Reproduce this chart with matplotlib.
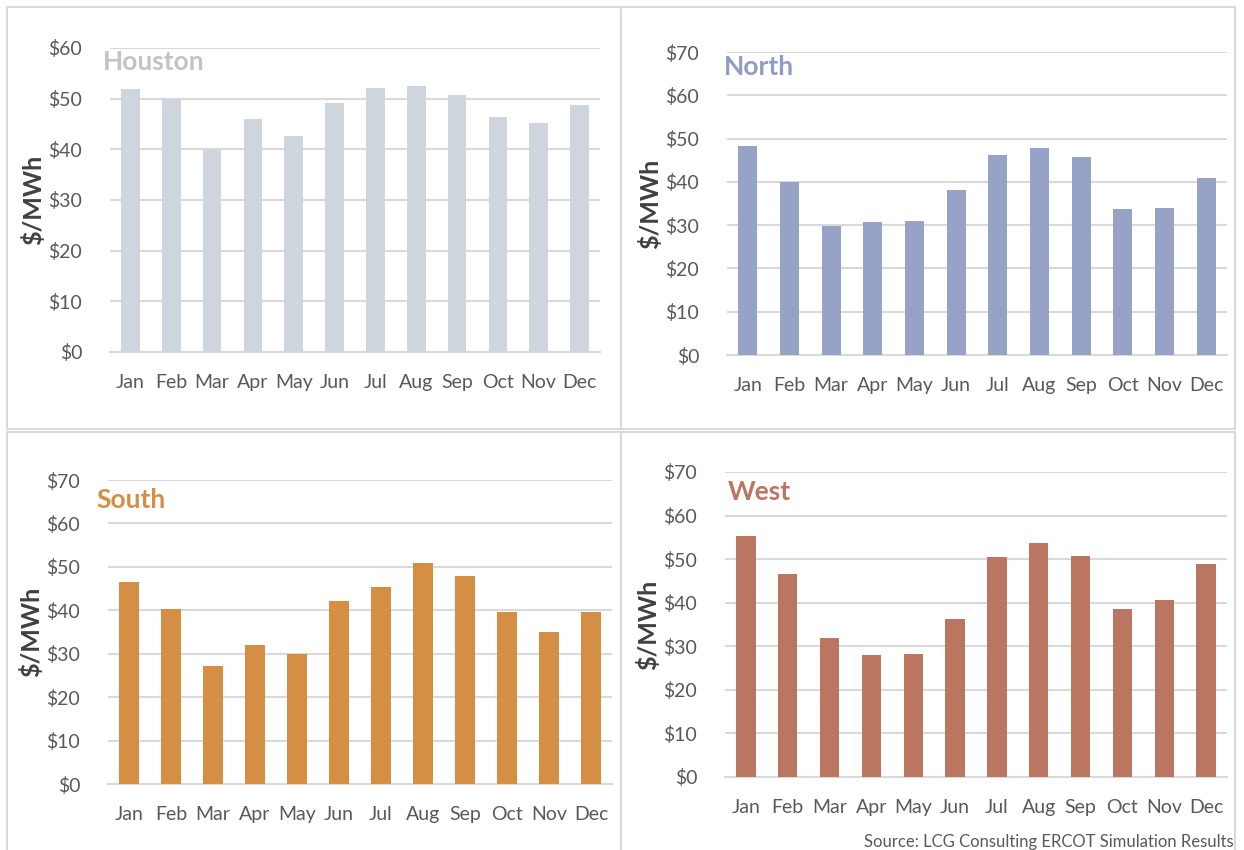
import matplotlib
matplotlib.use("Agg")
from matplotlib import pyplot as plt
from matplotlib.patches import Rectangle
import numpy as np

plt.rcParams['font.family'] = ['Lato', 'DejaVu Sans']

months = ['Jan', 'Feb', 'Mar', 'Apr', 'May', 'Jun', 'Jul', 'Aug', 'Sep', 'Oct', 'Nov', 'Dec']

houston = [51.9, 50.0, 39.9, 45.9, 42.7, 49.2, 52.1, 52.5, 50.7, 46.4, 45.1, 48.7]
north = [48.2, 40.0, 29.8, 30.7, 30.9, 38.1, 46.2, 47.8, 45.7, 33.8, 34.0, 41.0]
south = [46.5, 40.2, 27.2, 31.9, 29.9, 42.2, 45.3, 50.8, 47.8, 39.5, 35.1, 39.6]
west = [55.3, 46.5, 31.8, 28.1, 28.3, 36.3, 50.5, 53.7, 50.8, 38.5, 40.6, 48.8]

W, H = 1244, 850
fig = plt.figure(figsize=(W / 100, H / 100), dpi=100)

def px(x0, y0, x1, y1):
    # pixel box (top-left origin) -> figure fraction rect
    return [x0 / W, 1 - y1 / H, (x1 - x0) / W, (y1 - y0) / H]

# panel frames
for (x0, y0, x1, y1) in [(7, 7, 621, 429), (621, 7, 1235, 429), (7, 432, 621, 852), (621, 432, 1235, 852)]:
    fig.patches.append(Rectangle((x0 / W, 1 - y1 / H), (x1 - x0) / W, (y1 - y0) / H,
                                 transform=fig.transFigure, fill=False,
                                 edgecolor='#d9d9d9', linewidth=1.5))

panels = [
    # values, name, bar color, title color, ymax, axes box, title pos
    (houston, 'Houston', '#cfd5dc', '#c3c3c3', 60, (110, 48, 600, 352), (103, 62)),
    (north, 'North', '#97a3c6', '#8f9cc6', 70, (727, 52, 1227, 355), (724, 67)),
    (south, 'South', '#d48f45', '#d48f45', 70, (108, 480, 612, 784), (96, 500)),
    (west, 'West', '#bb7661', '#bb7661', 70, (725, 472, 1227, 777), (728, 492)),
]

for vals, name, bar_c, title_c, ymax, box, tpos in panels:
    ax = fig.add_axes(px(*box))
    x = np.arange(len(months))
    ax.bar(x, vals, width=0.46, color=bar_c, zorder=3)
    ax.set_xlim(-0.5, len(months) - 0.5)
    ax.set_ylim(0, ymax)
    ax.set_yticks(np.arange(0, ymax + 1, 10))
    ax.set_yticklabels(['$%d' % v for v in np.arange(0, ymax + 1, 10)])
    ax.set_xticks(x)
    ax.set_xticklabels(months)
    ax.grid(axis='y', color='#d9d9d9', linewidth=1.5, zorder=0)
    ax.set_axisbelow(True)
    for s in ['top', 'right', 'left']:
        ax.spines[s].set_visible(False)
    ax.spines['bottom'].set_color('#d9d9d9')
    ax.spines['bottom'].set_linewidth(1.5)
    ax.tick_params(axis='both', length=0, labelsize=14, colors='#595959')
    ax.tick_params(axis='y', pad=20)
    ax.tick_params(axis='x', pad=16)
    ax.set_facecolor('none')
    ax.set_ylabel('$/MWh', fontsize=18, fontweight='bold', color='#404040', labelpad=2)
    fig.text(tpos[0] / W, 1 - tpos[1] / H, name, fontsize=19, fontweight='bold',
             color=title_c, ha='left', va='center')

fig.text(1234 / W, 1 - 842 / H, 'Source: LCG Consulting ERCOT Simulation Results',
         fontsize=12, color='#595959', ha='right', va='center')

fig.savefig('out.png', dpi=100)
